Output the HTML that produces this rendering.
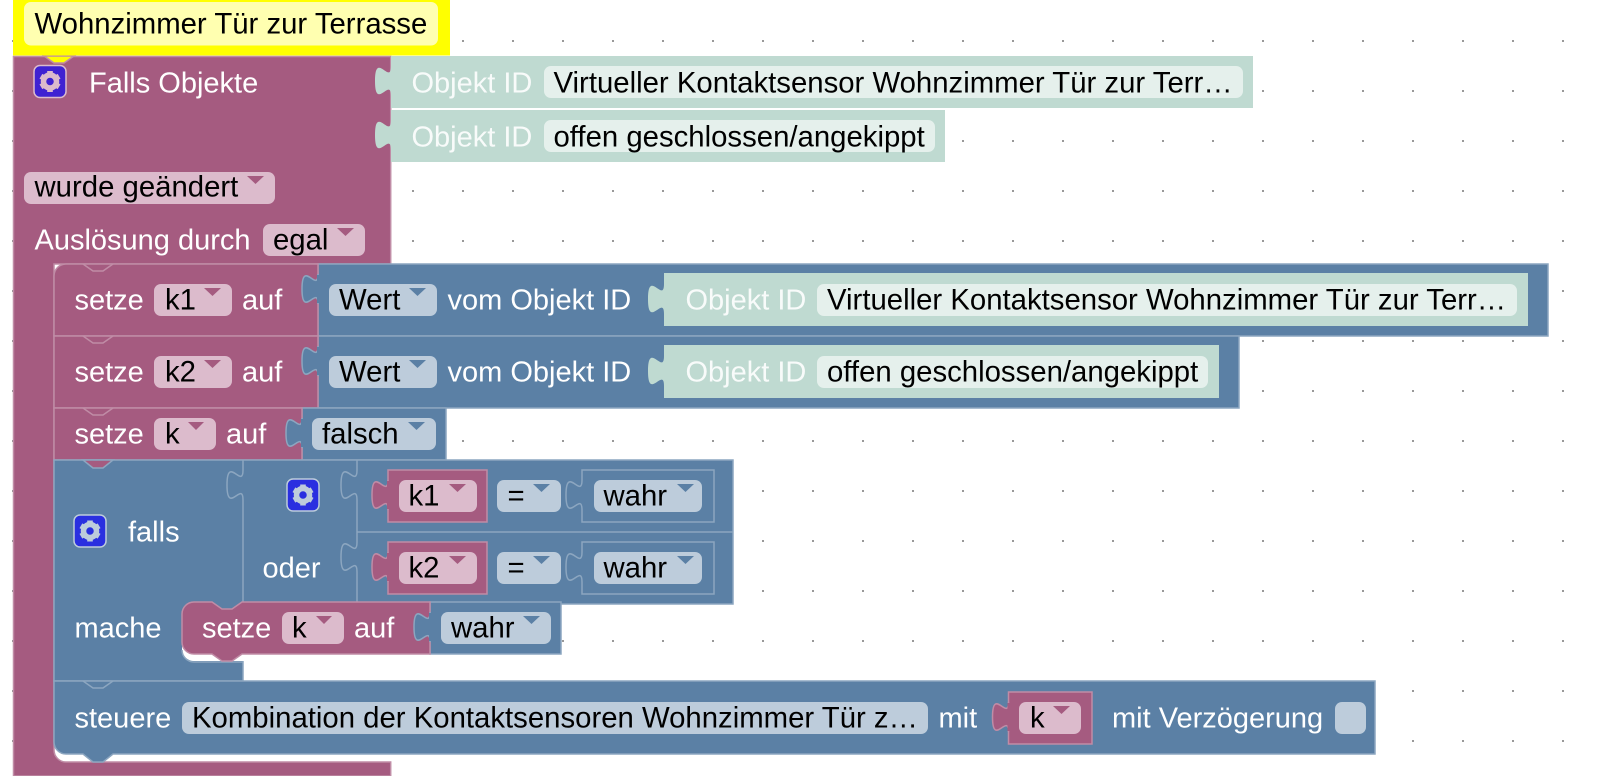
<!DOCTYPE html>
<html><head><meta charset="utf-8"><style>
html,body{margin:0;padding:0;background:#fff}
svg{display:block}
text{font-family:"Liberation Sans",sans-serif;font-size:29.33px;white-space:pre;transform:translateY(.7px)}
.w{fill:#fff;font-size:29px}.k{fill:#000}
.tw{fill:#fff;opacity:.9;font-size:29px}
.p{fill:#a55b80;stroke:#c08ca6;stroke-width:1.5}
.b{fill:#5b80a5;stroke:#8ca6c0;stroke-width:1.5}
.bl{fill:none;stroke:#8ca6c0;stroke-width:1.5}
.pl{fill:none;stroke:#c08ca6;stroke-width:1.5}
.t{fill:#bfdad1}
.fp{fill:#dcbbcc}.fb{fill:#bdccdb}.ft{fill:#e5f0ec}
.ap{fill:#a55b80}.ab{fill:#5b80a5}
</style></head><body>
<svg width="1608" height="776" viewBox="0 0 1608 776" xmlns="http://www.w3.org/2000/svg">
<defs>
<pattern id="g" x="12" y="40" width="50" height="50" patternUnits="userSpaceOnUse"><rect x="0" y="0" width="2" height="2" fill="#999"/></pattern>
<g id="gear">
<circle r="6.5" fill="none" stroke="currentColor" stroke-width="5.5"/>
<rect x="-2.800" y="-10.500" width="5.600" height="4" fill="currentColor"/>
<rect x="-2.800" y="-10.500" width="5.600" height="4" fill="currentColor" transform="rotate(60)"/>
<rect x="-2.800" y="-10.500" width="5.600" height="4" fill="currentColor" transform="rotate(120)"/>
<rect x="-2.800" y="-10.500" width="5.600" height="4" fill="currentColor" transform="rotate(180)"/>
<rect x="-2.800" y="-10.500" width="5.600" height="4" fill="currentColor" transform="rotate(240)"/>
<rect x="-2.800" y="-10.500" width="5.600" height="4" fill="currentColor" transform="rotate(300)"/>
</g>
</defs>
<rect width="1608" height="776" fill="#fff"/>
<rect width="1608" height="776" fill="url(#g)"/>

<!-- comment -->
<rect x="13" y="0" width="437" height="55.5" fill="#ffff00"/>
<rect x="24" y="2" width="414" height="43.5" rx="7" fill="#ffffb0"/>
<text class="k" x="34.5" y="33">Wohnzimmer Tür zur Terrasse</text>

<!-- main hat block -->
<path d="M13.5,56.5H390.7V264H54V750a12,12 0 0 0 12,12H390.7V776H13.5Z" class="p"/>
<path d="M44,56l10,7h10l10,-7z" fill="#ffff00" stroke="#c08ca6" stroke-width="1.5"/>
<path d="M43,55.500h32v-1h-32z" fill="#ffff00"/>
<rect x="34" y="65.500" width="32" height="32" rx="6" fill="#3f22d2" stroke="#dcbbcc" stroke-width="1.5"/>
<use href="#gear" x="50" y="81.500" color="#dcbbcc"/>
<text class="w" x="89" y="92">Falls Objekte</text>

<!-- trigger object ids -->
<rect x="391" y="56" width="862" height="52" class="t"/>
<path d="M391,66c0,20 -16,-16 -16,15s16,-5 16,15z" class="t"/>
<text class="tw" x="411.500" y="92">Objekt ID</text>
<rect x="544" y="66" width="699" height="32" rx="7" class="ft"/>
<text class="k" x="553.500" y="92">Virtueller Kontaktsensor Wohnzimmer Tür zur Terr…</text>

<rect x="391" y="110" width="554" height="52" class="t"/>
<path d="M391,120c0,20 -16,-16 -16,15s16,-5 16,15z" class="t"/>
<text class="tw" x="411.500" y="146">Objekt ID</text>
<rect x="544" y="120" width="391" height="32" rx="7" class="ft"/>
<text class="k" x="553.500" y="146">offen geschlossen/angekippt</text>

<rect x="24" y="172" width="251" height="32" rx="7" class="fp"/>
<text class="k" x="34.500" y="196">wurde geändert</text>
<path d="M247,176h17l-8.500,8z" class="ap"/>
<text class="w" x="34.500" y="249">Auslösung durch</text>
<rect x="263" y="224" width="102" height="32" rx="7" class="fp"/>
<text class="k" x="273" y="249">egal</text>
<path d="M337,228h17l-8.500,8z" class="ap"/>

<!-- setze k1 -->
<path d="M318,264H1548V336H318Z" class="b"/>
<path d="M54,336V276a12,12 0 0 1 12,-12H318V336Z" class="p"/>
<path d="M83,264l10,7h10l10,-7" class="pl"/>
<path d="M318,274c0,20 -16,-16 -16,15s16,-5 16,15z" class="b"/>
<path d="M318,275V303" stroke="#5b80a5" stroke-width="2"/>
<text class="w" x="74.500" y="309">setze</text>
<rect x="154" y="284" width="78" height="32" rx="7" class="fp"/>
<text class="k" x="165" y="309">k1</text>
<path d="M204,288h17l-8.500,8z" class="ap"/>
<text class="w" x="242" y="309">auf</text>
<rect x="329" y="284" width="108" height="32" rx="7" class="fb"/>
<text class="k" x="339" y="309">Wert</text>
<path d="M409,288h17l-8.500,8z" class="ab"/>
<text class="w" x="447.500" y="309">vom Objekt ID</text>
<rect x="664" y="273" width="864" height="53" class="t"/>
<path d="M664,284c0,20 -16,-16 -16,15s16,-5 16,15z" class="t"/>
<text class="tw" x="685.500" y="309">Objekt ID</text>
<rect x="817" y="284" width="700" height="32" rx="7" class="ft"/>
<text class="k" x="827" y="309">Virtueller Kontaktsensor Wohnzimmer Tür zur Terr…</text>

<!-- setze k2 -->
<path d="M318,336H1239V408H318Z" class="b"/>
<path d="M54,336H318V408H54Z" class="p"/>
<path d="M83,336l10,7h10l10,-7" class="pl"/>
<path d="M318,346c0,20 -16,-16 -16,15s16,-5 16,15z" class="b"/>
<path d="M318,347V375" stroke="#5b80a5" stroke-width="2"/>
<text class="w" x="74.500" y="381">setze</text>
<rect x="154" y="356" width="78" height="32" rx="7" class="fp"/>
<text class="k" x="165" y="381">k2</text>
<path d="M204,360h17l-8.500,8z" class="ap"/>
<text class="w" x="242" y="381">auf</text>
<rect x="329" y="356" width="108" height="32" rx="7" class="fb"/>
<text class="k" x="339" y="381">Wert</text>
<path d="M409,360h17l-8.500,8z" class="ab"/>
<text class="w" x="447.500" y="381">vom Objekt ID</text>
<rect x="664" y="345" width="555" height="53" class="t"/>
<path d="M664,356c0,20 -16,-16 -16,15s16,-5 16,15z" class="t"/>
<text class="tw" x="685.500" y="381">Objekt ID</text>
<rect x="817" y="356" width="391" height="32" rx="7" class="ft"/>
<text class="k" x="827" y="381">offen geschlossen/angekippt</text>

<!-- setze k falsch -->
<path d="M302,408H446V460H302Z" class="b"/>
<path d="M54,408H302V460H54Z" class="p"/>
<path d="M83,408l10,7h10l10,-7" class="pl"/>
<path d="M302,418c0,20 -16,-16 -16,15s16,-5 16,15z" class="b"/>
<path d="M302,419V447" stroke="#5b80a5" stroke-width="2"/>
<text class="w" x="74.500" y="443">setze</text>
<rect x="154" y="418" width="62" height="32" rx="7" class="fp"/>
<text class="k" x="165" y="443">k</text>
<path d="M188,422h16l-8,8z" class="ap"/>
<text class="w" x="226" y="443">auf</text>
<rect x="312" y="418" width="124" height="32" rx="7" class="fb"/>
<text class="k" x="322" y="443">falsch</text>
<path d="M408,422h17l-8.500,8z" class="ab"/>

<!-- falls block -->
<path d="M54,460H733V604H243V681H54Z" class="b"/>
<path d="M83,460l10,8h10l10,-8z" fill="#a55b80" stroke="#8ca6c0" stroke-width="1.500"/>
<path d="M243,460V470c0,20 -16,-16 -16,15s16,-5 16,15V604" class="bl"/>
<path d="M357,460V470c0,20 -16,-16 -16,15s16,-5 16,15V542c0,20 -16,-16 -16,15s16,-5 16,15V604" class="bl"/>
<path d="M357,532H733" class="bl"/>
<rect x="74" y="515" width="32" height="32" rx="6" fill="#2a2fe0" stroke="#bdccdb" stroke-width="1.500"/>
<use href="#gear" x="90" y="531" color="#bdccdb"/>
<text class="w" x="128" y="541">falls</text>
<rect x="287" y="479" width="32" height="32" rx="6" fill="#2a2fe0" stroke="#bdccdb" stroke-width="1.500"/>
<use href="#gear" x="303" y="495" color="#bdccdb"/>
<text class="w" x="262.500" y="577">oder</text>
<text class="w" x="74.500" y="637">mache</text>

<!-- k1 = wahr -->
<rect x="388" y="470" width="99" height="52" class="p"/>
<path d="M388,480c0,20 -16,-16 -16,15s16,-5 16,15" class="p"/>
<path d="M388,481V509" stroke="#a55b80" stroke-width="2"/>
<rect x="399" y="480" width="78" height="32" rx="7" class="fp"/>
<text class="k" x="408.500" y="505">k1</text>
<path d="M449,484h17l-8.500,8z" class="ap"/>
<rect x="497" y="480" width="64" height="32" rx="7" class="fb"/>
<text class="k" x="507.500" y="505">=</text>
<path d="M533,484h17l-8.500,8z" class="ab"/>
<path d="M582,470H714V522H582V510c0,-20 -16,16 -16,-15s16,5 16,-15Z" class="bl"/>
<rect x="594" y="480" width="108" height="32" rx="7" class="fb"/>
<text class="k" x="603.500" y="505">wahr</text>
<path d="M677,484h17l-8.500,8z" class="ab"/>

<!-- k2 = wahr -->
<rect x="388" y="542" width="99" height="52" class="p"/>
<path d="M388,552c0,20 -16,-16 -16,15s16,-5 16,15" class="p"/>
<path d="M388,553V581" stroke="#a55b80" stroke-width="2"/>
<rect x="399" y="552" width="78" height="32" rx="7" class="fp"/>
<text class="k" x="408.500" y="577">k2</text>
<path d="M449,556h17l-8.500,8z" class="ap"/>
<rect x="497" y="552" width="64" height="32" rx="7" class="fb"/>
<text class="k" x="507.500" y="577">=</text>
<path d="M533,556h17l-8.500,8z" class="ab"/>
<path d="M582,542H714V594H582V582c0,-20 -16,16 -16,-15s16,5 16,-15Z" class="bl"/>
<rect x="594" y="552" width="108" height="32" rx="7" class="fb"/>
<text class="k" x="603.500" y="577">wahr</text>
<path d="M677,556h17l-8.500,8z" class="ab"/>

<!-- white cutout under mache statement -->
<path d="M182,640V650a12,12 0 0 0 12,11H244V640Z" fill="#fff"/>
<path d="M182,650a12,12 0 0 0 12,12H243" class="bl"/>

<!-- setze k auf wahr -->
<rect x="430" y="602" width="131" height="52" class="b"/>
<path d="M182,614a12,12 0 0 1 12,-12H212l10,7h10l10,-7H430V654H242l-10,7h-10l-10,-7H194a12,12 0 0 1 -12,-12Z" class="p"/>
<path d="M430,612c0,20 -16,-16 -16,15s16,-5 16,15z" class="b"/>
<path d="M430,613V641" stroke="#5b80a5" stroke-width="2"/>
<text class="w" x="202" y="637">setze</text>
<rect x="282" y="612" width="62" height="32" rx="7" class="fp"/>
<text class="k" x="292" y="637">k</text>
<path d="M316,616h16l-8,8z" class="ap"/>
<text class="w" x="354" y="637">auf</text>
<rect x="441" y="612" width="110" height="32" rx="7" class="fb"/>
<text class="k" x="451" y="637">wahr</text>
<path d="M523,616h17l-8.500,8z" class="ab"/>

<!-- steuere -->
<path d="M54,681H1375V754H113l-10,8h-10l-10,-8H66a12,12 0 0 1 -12,-12Z" class="b"/>
<path d="M83,681l10,7h10l10,-7" class="bl"/>
<text class="w" x="74.500" y="727">steuere</text>
<rect x="182" y="702" width="746" height="32" rx="7" class="fb"/>
<text class="k" x="192" y="727">Kombination der Kontaktsensoren Wohnzimmer Tür z…</text>
<text class="w" x="938.500" y="727">mit</text>
<rect x="1008.500" y="692" width="83.500" height="52" class="p"/>
<path d="M1008.500,702c0,20 -16,-16 -16,15s16,-5 16,15" class="p"/>
<path d="M1008.500,703V731" stroke="#a55b80" stroke-width="2"/>
<rect x="1019" y="702" width="62" height="32" rx="7" class="fp"/>
<text class="k" x="1030" y="727">k</text>
<path d="M1053,706h17l-8.500,8z" class="ap"/>
<text class="w" x="1112" y="727">mit Verzögerung</text>
<rect x="1335" y="702" width="31" height="32" rx="7" class="fb"/>
</svg>
</body></html>
